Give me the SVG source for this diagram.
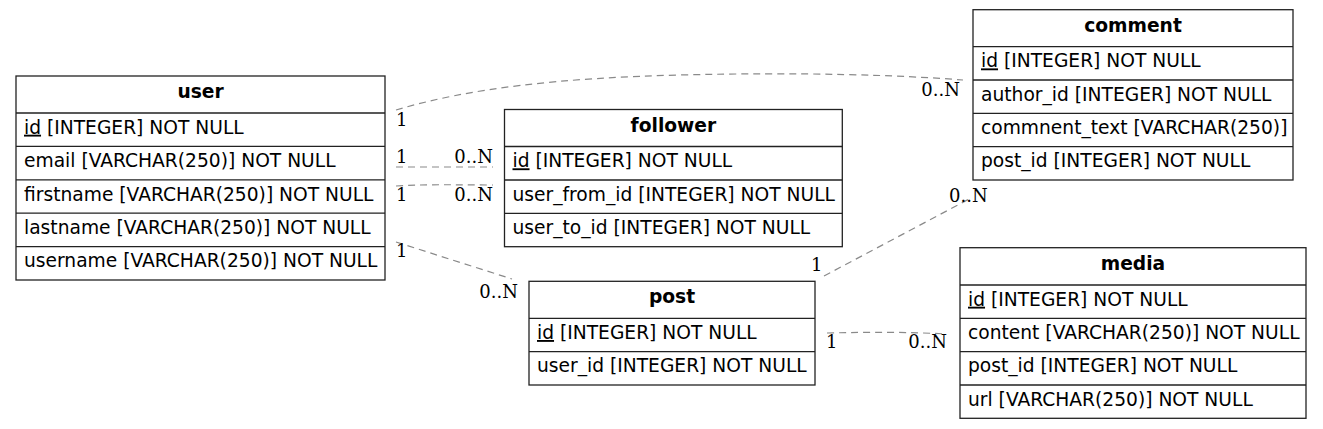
<svg xmlns="http://www.w3.org/2000/svg" width="1323" height="429" viewBox="0 0 1323 429">
<style>
.box{fill:#fff;stroke:#222;stroke-width:1.3}
.sep{stroke:#222;stroke-width:1.3}
.hd{font-family:"DejaVu Sans",Verdana,sans-serif;font-weight:bold;font-size:18.67px;fill:#000;text-anchor:middle}
.rw{font-family:"DejaVu Sans",Verdana,sans-serif;font-size:18.67px;fill:#000}
.pk{text-decoration:underline}
.edge{fill:none;stroke:#8a8a8a;stroke-width:1.2;stroke-dasharray:7,5}
.card{font-family:"DejaVu Serif","Liberation Serif",serif;font-size:18px;fill:#000}
</style>
<rect width="1323" height="429" fill="#fff"/>
<g id="connectors">
<path class="edge" d="M396,110 C470,88 560,78 680,75 C800,72 900,75 963,80"/>
<path class="edge" d="M396,167 L493,167"/>
<path class="edge" d="M396,186 C430,184 460,185 493,185"/>
<path class="edge" d="M396,242 L512,279"/>
<path class="edge" d="M824,276 L971,198"/>
<path class="edge" d="M827,333 C870,332 910,332 947,334"/>
<text class="card" x="396" y="126">1</text>
<text class="card" x="960" y="96" text-anchor="end">0..N</text>
<text class="card" x="396" y="163">1</text>
<text class="card" x="493" y="163" text-anchor="end">0..N</text>
<text class="card" x="396" y="201">1</text>
<text class="card" x="493" y="201" text-anchor="end">0..N</text>
<text class="card" x="396" y="257">1</text>
<text class="card" x="518" y="298" text-anchor="end">0..N</text>
<text class="card" x="811" y="271">1</text>
<text class="card" x="949" y="202">0..N</text>
<text class="card" x="826" y="348">1</text>
<text class="card" x="947" y="348" text-anchor="end">0..N</text>
</g>
<g id="user">
<rect class="box" x="16" y="76" width="369" height="204"/>
<path class="sep" d="M16,113H385M16,146.4H385M16,179.8H385M16,213.2H385M16,246.6H385"/>
<text class="hd" x="200.5" y="98">user</text>
<text class="rw" x="24" y="133.7"><tspan class="pk">id</tspan> [INTEGER] NOT NULL</text>
<text class="rw" x="24" y="167.1">email [VARCHAR(250)] NOT NULL</text>
<text class="rw" x="24" y="200.5">firstname [VARCHAR(250)] NOT NULL</text>
<text class="rw" x="24" y="233.9">lastname [VARCHAR(250)] NOT NULL</text>
<text class="rw" x="24" y="267.3">username [VARCHAR(250)] NOT NULL</text>
</g>
<g id="follower">
<rect class="box" x="504.5" y="109.5" width="337.8" height="137.2"/>
<path class="sep" d="M504.5,146.5H842.3M504.5,180H842.3M504.5,213.3H842.3"/>
<text class="hd" x="673.4" y="131.5">follower</text>
<text class="rw" x="512.5" y="167.3"><tspan class="pk">id</tspan> [INTEGER] NOT NULL</text>
<text class="rw" x="512.5" y="200.7">user_from_id [INTEGER] NOT NULL</text>
<text class="rw" x="512.5" y="234">user_to_id [INTEGER] NOT NULL</text>
</g>
<g id="comment">
<rect class="box" x="973" y="9.7" width="320" height="170.3"/>
<path class="sep" d="M973,46.7H1293M973,80H1293M973,113.3H1293M973,146.7H1293"/>
<text class="hd" x="1133" y="31.7">comment</text>
<text class="rw" x="981" y="67.4"><tspan class="pk">id</tspan> [INTEGER] NOT NULL</text>
<text class="rw" x="981" y="100.7">author_id [INTEGER] NOT NULL</text>
<text class="rw" x="981" y="134">commnent_text [VARCHAR(250)]</text>
<text class="rw" x="981" y="167.4">post_id [INTEGER] NOT NULL</text>
</g>
<g id="post">
<rect class="box" x="529" y="281.3" width="286" height="103.7"/>
<path class="sep" d="M529,318.3H815M529,351.7H815"/>
<text class="hd" x="672" y="303.3">post</text>
<text class="rw" x="537" y="339"><tspan class="pk">id</tspan> [INTEGER] NOT NULL</text>
<text class="rw" x="537" y="372.4">user_id [INTEGER] NOT NULL</text>
</g>
<g id="media">
<rect class="box" x="960" y="247.7" width="346" height="170.6"/>
<path class="sep" d="M960,285H1306M960,318.3H1306M960,351.7H1306M960,385H1306"/>
<text class="hd" x="1133" y="269.9">media</text>
<text class="rw" x="968" y="305.7"><tspan class="pk">id</tspan> [INTEGER] NOT NULL</text>
<text class="rw" x="968" y="339">content [VARCHAR(250)] NOT NULL</text>
<text class="rw" x="968" y="372.4">post_id [INTEGER] NOT NULL</text>
<text class="rw" x="968" y="405.7">url [VARCHAR(250)] NOT NULL</text>
</g>
</svg>
